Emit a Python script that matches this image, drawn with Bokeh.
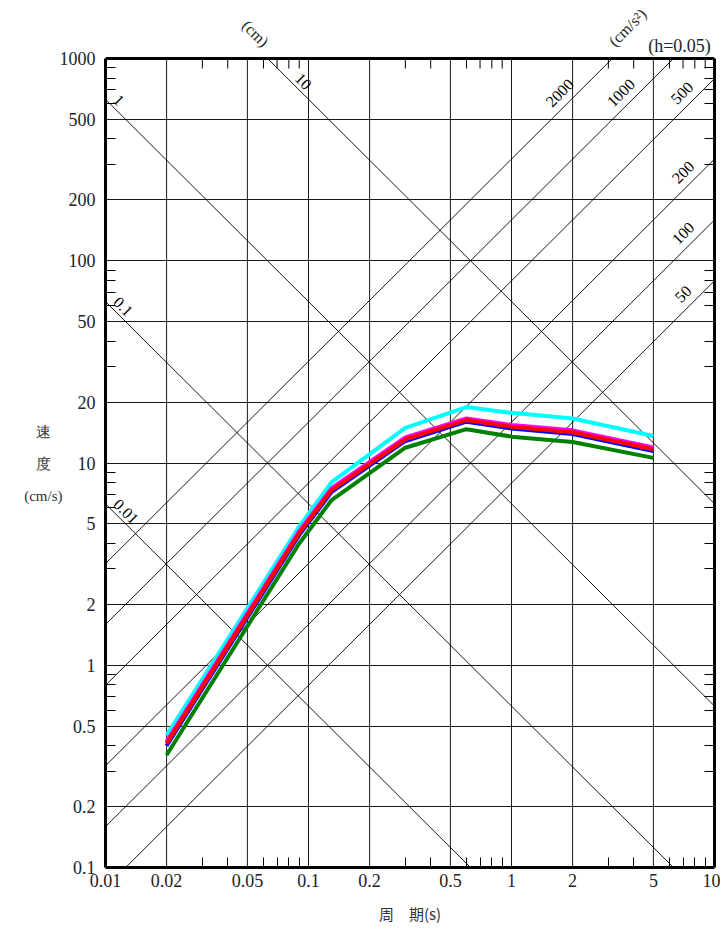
import math
from bokeh.plotting import figure
from bokeh.models import FixedTicker, LogAxis
from bokeh.embed import file_html
from bokeh.resources import INLINE
from bokeh.core.properties import value

# ---------------- data ----------------
periods = [0.02, 0.09, 0.13, 0.3, 0.6, 1.0, 2.0, 5.0]
cyan_v = [0.45, 4.85, 8.05, 14.9, 18.9, 17.7, 16.6, 13.6]
magenta_v = [0.42, 4.6, 7.5, 13.4, 16.6, 15.4, 14.5, 11.95]
blue_v = [0.40, 4.4, 7.2, 12.85, 16.0, 14.8, 13.9, 11.45]
red_v = [0.41, 4.5, 7.35, 13.1, 16.3, 15.1, 14.2, 11.7]
green_v = [0.36, 4.0, 6.56, 11.9, 14.7, 13.5, 12.7, 10.6]

x_ticks = [0.01, 0.02, 0.05, 0.1, 0.2, 0.5, 1, 2, 5, 10]
x_tick_labels = ["0.01", "0.02", "0.05", "0.1", "0.2", "0.5", "1", "2", "5", "10"]
y_ticks = [0.1, 0.2, 0.5, 1, 2, 5, 10, 20, 50, 100, 200, 500, 1000]
y_tick_labels = ["0.1", "0.2", "0.5", "1", "2", "5", "10", "20", "50", "100", "200", "500", "1000"]
minor_steps = [3, 4, 6, 7, 8, 9]
x_decades = [0.01, 0.1, 1]
y_decades = [0.1, 1, 10, 100]

disp_values = [0.01, 0.1, 1, 10]          # cm
disp_labels = ["0.01", "0.1", "1", "10"]
accel_values = [50, 100, 200, 500, 1000, 2000]  # cm/s^2
accel_labels = ["50", "100", "200", "500", "1000", "2000"]

x_title = "周　期(s)"
y_title_lines = ["速", "度", "(cm/s)"]

TWO_PI = 2 * math.pi
X0, X1 = 0.01, 10
Y0, Y1 = 0.1, 1000

# ---------------- geometry (canvas px) ----------------
W, H = 720, 927
FL, FR, FT, FB = 105, 714, 58, 867        # chart box on the canvas
PX_PER_DEC_X = (FR - FL) / 3.0
PX_PER_DEC_Y = (FB - FT) / 4.0
def px_T(x):
    return 10 ** (math.log10(X0) + (x - FL) / PX_PER_DEC_X)
def px_V(y):
    return 10 ** (math.log10(Y0) + (FB - y) / PX_PER_DEC_Y)
Y_TOP = px_V(0)   # frame extends to the canvas top so the top notes are drawable

x_minor = [d * s for d in x_decades for s in minor_steps]
y_minor = [d * s for d in y_decades for s in minor_steps]

p = figure(width=W, height=H, x_axis_type="log", y_axis_type="log",
           x_range=(X0, X1), y_range=(Y0, Y_TOP), title=None,
           min_border_left=FL, min_border_right=W - FR, min_border_top=0,
           min_border_bottom=H - FB,
           toolbar_location=None, output_backend="svg",
           background_fill_color="white", border_fill_color="white")
p.outline_line_color = None

xt = FixedTicker(ticks=x_ticks, minor_ticks=x_minor)
yt = FixedTicker(ticks=y_ticks, minor_ticks=y_minor)
yt_minor_only = FixedTicker(ticks=[], minor_ticks=y_minor)

NUMFONT = "Liberation Serif"
CJKFONT = "Noto Sans CJK JP"

def style_axis(ax, ticker):
    ax.ticker = ticker
    ax.axis_line_color = "black"
    ax.axis_line_width = 3
    ax.major_tick_in = 0
    ax.major_tick_out = 0
    ax.minor_tick_in = 10
    ax.minor_tick_out = 0
    ax.minor_tick_line_color = "black"
    ax.minor_tick_line_width = 1

xa = p.xaxis[0]
style_axis(xa, xt)
xa.major_label_overrides = {v: s for v, s in zip(x_ticks, x_tick_labels)}
xa.major_label_text_font = NUMFONT
xa.major_label_text_font_size = "18px"
xa.major_label_text_color = "#222222"
xa.major_label_standoff = 6
xa.axis_label = x_title
xa.axis_label_text_font = CJKFONT
xa.axis_label_text_font_size = "15px"
xa.axis_label_text_font_style = "normal"
xa.axis_label_text_color = "#333333"
xa.axis_label_standoff = 13

ya = p.yaxis[0]
style_axis(ya, yt)
ya.bounds = (Y0, Y1)
ya.major_label_overrides = {v: s for v, s in zip(y_ticks, y_tick_labels)}
ya.major_label_text_font = NUMFONT
ya.major_label_text_font_size = "18px"
ya.major_label_text_color = "#222222"
ya.major_label_standoff = 10

right_ax = LogAxis()
style_axis(right_ax, yt_minor_only)
right_ax.bounds = (Y0, Y1)
right_ax.major_label_text_font_size = "0px"
right_ax.major_label_standoff = 0
p.add_layout(right_ax, "right")

# y-axis title: three stacked horizontal lines, carried by a label-only axis
y_title_pos = [px_V(431), px_V(463), px_V(495)]
pad = "\u00a0\u00a0\u00a0"
title_ax = LogAxis(ticker=FixedTicker(ticks=y_title_pos, minor_ticks=[]))
title_ax.major_label_overrides = {y_title_pos[0]: y_title_lines[0] + pad,
                                  y_title_pos[1]: y_title_lines[1] + pad,
                                  y_title_pos[2]: y_title_lines[2]}
title_ax.axis_line_color = None
title_ax.major_tick_line_color = None
title_ax.minor_tick_line_color = None
title_ax.major_tick_in = 0
title_ax.major_tick_out = 0
title_ax.major_label_standoff = -6
title_ax.major_label_text_font = NUMFONT
title_ax.major_label_text_font_size = "15px"
title_ax.major_label_text_color = "#333333"
p.add_layout(title_ax, "left")

# grid: horizontal lines from the library grid, vertical lines bounded to the chart box
p.ygrid.ticker = yt
p.ygrid.grid_line_color = "black"
p.ygrid.grid_line_alpha = 0.9
p.xgrid.visible = False
p.segment(x0=x_ticks, y0=[Y0] * len(x_ticks), x1=x_ticks, y1=[Y1] * len(x_ticks),
          line_color="black", line_width=1, line_alpha=0.9)
# top border and its inner minor ticks
tick_len = 10 ** (-10 / PX_PER_DEC_Y)
p.segment(x0=x_minor, y0=[Y1] * len(x_minor), x1=x_minor, y1=[Y1 * tick_len] * len(x_minor),
          line_color="black", line_width=1)
p.line([X0, X1], [Y1, Y1], line_color="black", line_width=3)

# ---------------- tripartite diagonal lines ----------------
xs, ys = [], []
for D in disp_values:
    t0 = max(X0, TWO_PI * D / Y1)
    t1 = min(X1, TWO_PI * D / Y0)
    xs.append([t0, t1])
    ys.append([TWO_PI * D / t0, TWO_PI * D / t1])
for A in accel_values:
    t0 = max(X0, TWO_PI * Y0 / A)
    t1 = min(X1, TWO_PI * Y1 / A)
    xs.append([t0, t1])
    ys.append([A * t0 / TWO_PI, A * t1 / TWO_PI])
p.multi_line(xs, ys, line_color="black", line_width=1, line_alpha=0.9)

# labels for displacement lines
d_x, d_y = [], []
for D in disp_values:
    t = max(0.0113, 1.41 * TWO_PI * D / Y1)
    d_x.append(t)
    d_y.append(TWO_PI * D / t * 1.16)
p.text(x=d_x, y=d_y, text=disp_labels, angle=-math.pi / 4,
       text_align="left", text_baseline="middle",
       text_font=value(NUMFONT), text_font_size=value("16px"), text_color="black")

# labels for acceleration lines
a_x, a_y = [], []
for A in accel_values:
    t = min(7.0, TWO_PI * 550 / A)
    a_x.append(t)
    a_y.append(A * t / TWO_PI * 1.23)
p.text(x=a_x, y=a_y, text=accel_labels, angle=math.pi / 4,
       text_align="center", text_baseline="middle",
       text_font=value(NUMFONT), text_font_size=value("16px"), text_color="black")

# ---------------- response curves ----------------
p.line(periods, cyan_v, line_color="#00FFFF", line_width=4)
p.line(periods, green_v, line_color="#008000", line_width=4)
p.line(periods, blue_v, line_color="#0000FF", line_width=4)
p.line(periods, magenta_v, line_color="#FF00FF", line_width=4)
p.line(periods, red_v, line_color="#FF0000", line_width=4)

# ---------------- notes above the chart box ----------------
p.text(x=[px_T(255)], y=[px_V(33)], text=["(cm)"], angle=-math.pi / 4,
       text_align="center", text_baseline="middle",
       text_font=value(NUMFONT), text_font_size=value("16px"), text_color="#222222")
p.text(x=[px_T(627)], y=[px_V(27)], text=["(cm/s²)"], angle=math.pi / 4,
       text_align="center", text_baseline="middle",
       text_font=value(NUMFONT), text_font_size=value("16px"), text_color="#222222")
p.text(x=[px_T(679)], y=[px_V(45)], text=["(h=0.05)"], angle=0,
       text_align="center", text_baseline="middle",
       text_font=value(NUMFONT), text_font_size=value("18px"), text_color="#222222")

open("out.html", "w").write(file_html(p, INLINE))
